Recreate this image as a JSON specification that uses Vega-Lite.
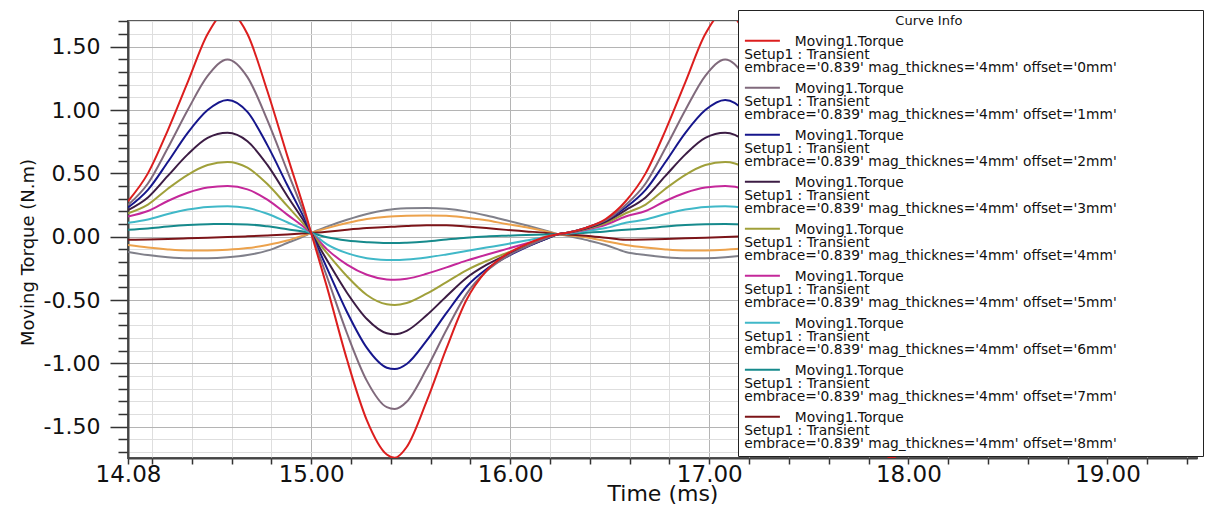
{
  "$schema": "https://vega.github.io/schema/vega-lite/v6.json",
  "width": 1069,
  "height": 437,
  "autosize": {"type": "none"},
  "padding": {"left": 128, "top": 21, "right": 12, "bottom": 49},
  "background": "white",
  "config": {
    "view": {"stroke": "#5a5a5a", "strokeWidth": 2},
    "font": "DejaVu Sans"
  },
  "data": {
    "values": [
      {"t": 14.08, "0mm": 0.28, "1mm": 0.25, "2mm": 0.23, "3mm": 0.21, "4mm": 0.185, "5mm": 0.16, "6mm": 0.11, "7mm": 0.055, "8mm": -0.024, "9mm": -0.065, "10mm": -0.12},
      {"t": 14.18, "0mm": 0.5, "1mm": 0.42, "2mm": 0.37, "3mm": 0.31, "4mm": 0.254, "5mm": 0.203, "6mm": 0.136, "7mm": 0.065, "8mm": -0.022, "9mm": -0.085, "10mm": -0.145},
      {"t": 14.28, "0mm": 0.84, "1mm": 0.7, "2mm": 0.59, "3mm": 0.48, "4mm": 0.379, "5mm": 0.282, "6mm": 0.179, "7mm": 0.08, "8mm": -0.018, "9mm": -0.1, "10mm": -0.162},
      {"t": 14.38, "0mm": 1.22, "1mm": 1.0, "2mm": 0.82, "3mm": 0.65, "4mm": 0.489, "5mm": 0.347, "6mm": 0.214, "7mm": 0.092, "8mm": -0.013, "9mm": -0.108, "10mm": -0.17},
      {"t": 14.48, "0mm": 1.6, "1mm": 1.27, "2mm": 1.0, "3mm": 0.78, "4mm": 0.566, "5mm": 0.388, "6mm": 0.235, "7mm": 0.099, "8mm": -0.008, "9mm": -0.108, "10mm": -0.17},
      {"t": 14.58, "0mm": 1.78, "1mm": 1.4, "2mm": 1.08, "3mm": 0.82, "4mm": 0.59, "5mm": 0.4, "6mm": 0.24, "7mm": 0.1, "8mm": -0.003, "9mm": -0.103, "10mm": -0.163},
      {"t": 14.68, "0mm": 1.6, "1mm": 1.26, "2mm": 0.985, "3mm": 0.753, "4mm": 0.545, "5mm": 0.374, "6mm": 0.227, "7mm": 0.097, "8mm": 0.003, "9mm": -0.09, "10mm": -0.145},
      {"t": 14.78, "0mm": 1.15, "1mm": 0.92, "2mm": 0.723, "3mm": 0.567, "4mm": 0.416, "5mm": 0.293, "6mm": 0.181, "7mm": 0.082, "8mm": 0.01, "9mm": -0.065, "10mm": -0.11},
      {"t": 14.88, "0mm": 0.64, "1mm": 0.52, "2mm": 0.408, "3mm": 0.322, "4mm": 0.243, "5mm": 0.174, "6mm": 0.114, "7mm": 0.059, "8mm": 0.018, "9mm": -0.03, "10mm": -0.05},
      {"t": 14.98, "0mm": 0.14, "1mm": 0.118, "2mm": 0.098, "3mm": 0.082, "4mm": 0.068, "5mm": 0.056, "6mm": 0.045, "7mm": 0.036, "8mm": 0.028, "9mm": 0.02, "10mm": 0.015},
      {"t": 15.0, "0mm": 0.03, "1mm": 0.03, "2mm": 0.03, "3mm": 0.03, "4mm": 0.03, "5mm": 0.03, "6mm": 0.03, "7mm": 0.03, "8mm": 0.03, "9mm": 0.03, "10mm": 0.03},
      {"t": 15.08, "0mm": -0.4, "1mm": -0.318, "2mm": -0.25, "3mm": -0.186, "4mm": -0.13, "5mm": -0.1, "6mm": -0.06, "7mm": -0.005, "8mm": 0.04, "9mm": 0.068, "10mm": 0.08},
      {"t": 15.18, "0mm": -0.97, "1mm": -0.762, "2mm": -0.594, "3mm": -0.442, "4mm": -0.312, "5mm": -0.22, "6mm": -0.13, "7mm": -0.03, "8mm": 0.055, "9mm": 0.108, "10mm": 0.134},
      {"t": 15.28, "0mm": -1.45, "1mm": -1.138, "2mm": -0.878, "3mm": -0.65, "4mm": -0.46, "5mm": -0.3, "6mm": -0.17, "7mm": -0.043, "8mm": 0.068, "9mm": 0.14, "10mm": 0.18},
      {"t": 15.38, "0mm": -1.72, "1mm": -1.346, "2mm": -1.034, "3mm": -0.762, "4mm": -0.534, "5mm": -0.337, "6mm": -0.183, "7mm": -0.05, "8mm": 0.077, "9mm": 0.158, "10mm": 0.21},
      {"t": 15.42, "0mm": -1.745, "1mm": -1.36, "2mm": -1.045, "3mm": -0.77, "4mm": -0.54, "5mm": -0.34, "6mm": -0.184, "7mm": -0.05, "8mm": 0.079, "9mm": 0.162, "10mm": 0.218},
      {"t": 15.48, "0mm": -1.66, "1mm": -1.303, "2mm": -1.005, "3mm": -0.743, "4mm": -0.524, "5mm": -0.332, "6mm": -0.18, "7mm": -0.047, "8mm": 0.084, "9mm": 0.166, "10mm": 0.224},
      {"t": 15.58, "0mm": -1.3, "1mm": -1.043, "2mm": -0.821, "3mm": -0.62, "4mm": -0.45, "5mm": -0.293, "6mm": -0.164, "7mm": -0.037, "8mm": 0.09, "9mm": 0.168, "10mm": 0.226},
      {"t": 15.68, "0mm": -0.88, "1mm": -0.735, "2mm": -0.602, "3mm": -0.47, "4mm": -0.358, "5mm": -0.242, "6mm": -0.14, "7mm": -0.022, "8mm": 0.09, "9mm": 0.166, "10mm": 0.22},
      {"t": 15.78, "0mm": -0.5, "1mm": -0.453, "2mm": -0.395, "3mm": -0.326, "4mm": -0.265, "5mm": -0.189, "6mm": -0.113, "7mm": -0.008, "8mm": 0.08, "9mm": 0.15, "10mm": 0.2},
      {"t": 15.88, "0mm": -0.27, "1mm": -0.273, "2mm": -0.257, "3mm": -0.223, "4mm": -0.192, "5mm": -0.142, "6mm": -0.086, "7mm": 0.002, "8mm": 0.068, "9mm": 0.13, "10mm": 0.168},
      {"t": 15.98, "0mm": -0.14, "1mm": -0.159, "2mm": -0.161, "3mm": -0.145, "4mm": -0.13, "5mm": -0.098, "6mm": -0.059, "7mm": 0.008, "8mm": 0.054, "9mm": 0.1, "10mm": 0.13},
      {"t": 16.08, "0mm": -0.06, "1mm": -0.079, "2mm": -0.084, "3mm": -0.079, "4mm": -0.072, "5mm": -0.054, "6mm": -0.03, "7mm": 0.013, "8mm": 0.042, "9mm": 0.074, "10mm": 0.09},
      {"t": 16.18, "0mm": 0.0, "1mm": -0.012, "2mm": -0.017, "3mm": -0.017, "4mm": -0.016, "5mm": -0.01, "6mm": 0.0, "7mm": 0.018, "8mm": 0.03, "9mm": 0.042, "10mm": 0.047},
      {"t": 16.24, "0mm": 0.02, "1mm": 0.02, "2mm": 0.02, "3mm": 0.02, "4mm": 0.02, "5mm": 0.02, "6mm": 0.02, "7mm": 0.02, "8mm": 0.02, "9mm": 0.02, "10mm": 0.02},
      {"t": 16.28, "0mm": 0.03, "1mm": 0.03, "2mm": 0.03, "3mm": 0.03, "4mm": 0.028, "5mm": 0.027, "6mm": 0.025, "7mm": 0.022, "8mm": 0.018, "9mm": 0.014, "10mm": 0.01},
      {"t": 16.38, "0mm": 0.07, "1mm": 0.07, "2mm": 0.07, "3mm": 0.065, "4mm": 0.06, "5mm": 0.055, "6mm": 0.045, "7mm": 0.032, "8mm": 0.008, "9mm": -0.005, "10mm": -0.025},
      {"t": 16.48, "0mm": 0.14, "1mm": 0.13, "2mm": 0.13, "3mm": 0.12, "4mm": 0.108, "5mm": 0.095, "6mm": 0.068, "7mm": 0.042, "8mm": -0.008, "9mm": -0.035, "10mm": -0.065},
      {"t": 16.58, "0mm": 0.28, "1mm": 0.25, "2mm": 0.23, "3mm": 0.21, "4mm": 0.185, "5mm": 0.16, "6mm": 0.11, "7mm": 0.055, "8mm": -0.024, "9mm": -0.065, "10mm": -0.12},
      {"t": 16.68, "0mm": 0.5, "1mm": 0.42, "2mm": 0.37, "3mm": 0.31, "4mm": 0.254, "5mm": 0.203, "6mm": 0.136, "7mm": 0.065, "8mm": -0.022, "9mm": -0.085, "10mm": -0.145},
      {"t": 16.78, "0mm": 0.84, "1mm": 0.7, "2mm": 0.59, "3mm": 0.48, "4mm": 0.379, "5mm": 0.282, "6mm": 0.179, "7mm": 0.08, "8mm": -0.018, "9mm": -0.1, "10mm": -0.162},
      {"t": 16.88, "0mm": 1.22, "1mm": 1.0, "2mm": 0.82, "3mm": 0.65, "4mm": 0.489, "5mm": 0.347, "6mm": 0.214, "7mm": 0.092, "8mm": -0.013, "9mm": -0.108, "10mm": -0.17},
      {"t": 16.98, "0mm": 1.6, "1mm": 1.27, "2mm": 1.0, "3mm": 0.78, "4mm": 0.566, "5mm": 0.388, "6mm": 0.235, "7mm": 0.099, "8mm": -0.008, "9mm": -0.108, "10mm": -0.17},
      {"t": 17.08, "0mm": 1.78, "1mm": 1.4, "2mm": 1.08, "3mm": 0.82, "4mm": 0.59, "5mm": 0.4, "6mm": 0.24, "7mm": 0.1, "8mm": -0.003, "9mm": -0.103, "10mm": -0.163},
      {"t": 17.18, "0mm": 1.6, "1mm": 1.26, "2mm": 0.985, "3mm": 0.753, "4mm": 0.545, "5mm": 0.374, "6mm": 0.227, "7mm": 0.097, "8mm": 0.003, "9mm": -0.09, "10mm": -0.145},
      {"t": 17.28, "0mm": 1.15, "1mm": 0.92, "2mm": 0.723, "3mm": 0.567, "4mm": 0.416, "5mm": 0.293, "6mm": 0.181, "7mm": 0.082, "8mm": 0.01, "9mm": -0.065, "10mm": -0.11},
      {"t": 17.38, "0mm": 0.64, "1mm": 0.52, "2mm": 0.408, "3mm": 0.322, "4mm": 0.243, "5mm": 0.174, "6mm": 0.114, "7mm": 0.059, "8mm": 0.018, "9mm": -0.03, "10mm": -0.05},
      {"t": 17.48, "0mm": 0.14, "1mm": 0.118, "2mm": 0.098, "3mm": 0.082, "4mm": 0.068, "5mm": 0.056, "6mm": 0.045, "7mm": 0.036, "8mm": 0.028, "9mm": 0.02, "10mm": 0.015},
      {"t": 17.5, "0mm": 0.03, "1mm": 0.03, "2mm": 0.03, "3mm": 0.03, "4mm": 0.03, "5mm": 0.03, "6mm": 0.03, "7mm": 0.03, "8mm": 0.03, "9mm": 0.03, "10mm": 0.03},
      {"t": 17.58, "0mm": -0.4, "1mm": -0.318, "2mm": -0.25, "3mm": -0.186, "4mm": -0.13, "5mm": -0.1, "6mm": -0.06, "7mm": -0.005, "8mm": 0.04, "9mm": 0.068, "10mm": 0.08},
      {"t": 17.68, "0mm": -0.97, "1mm": -0.762, "2mm": -0.594, "3mm": -0.442, "4mm": -0.312, "5mm": -0.22, "6mm": -0.13, "7mm": -0.03, "8mm": 0.055, "9mm": 0.108, "10mm": 0.134},
      {"t": 17.78, "0mm": -1.45, "1mm": -1.138, "2mm": -0.878, "3mm": -0.65, "4mm": -0.46, "5mm": -0.3, "6mm": -0.17, "7mm": -0.043, "8mm": 0.068, "9mm": 0.14, "10mm": 0.18},
      {"t": 17.88, "0mm": -1.72, "1mm": -1.346, "2mm": -1.034, "3mm": -0.762, "4mm": -0.534, "5mm": -0.337, "6mm": -0.183, "7mm": -0.05, "8mm": 0.077, "9mm": 0.158, "10mm": 0.21},
      {"t": 17.92, "0mm": -1.745, "1mm": -1.36, "2mm": -1.045, "3mm": -0.77, "4mm": -0.54, "5mm": -0.34, "6mm": -0.184, "7mm": -0.05, "8mm": 0.079, "9mm": 0.162, "10mm": 0.218},
      {"t": 17.98, "0mm": -1.66, "1mm": -1.303, "2mm": -1.005, "3mm": -0.743, "4mm": -0.524, "5mm": -0.332, "6mm": -0.18, "7mm": -0.047, "8mm": 0.084, "9mm": 0.166, "10mm": 0.224},
      {"t": 18.08, "0mm": -1.3, "1mm": -1.043, "2mm": -0.821, "3mm": -0.62, "4mm": -0.45, "5mm": -0.293, "6mm": -0.164, "7mm": -0.037, "8mm": 0.09, "9mm": 0.168, "10mm": 0.226},
      {"t": 18.18, "0mm": -0.88, "1mm": -0.735, "2mm": -0.602, "3mm": -0.47, "4mm": -0.358, "5mm": -0.242, "6mm": -0.14, "7mm": -0.022, "8mm": 0.09, "9mm": 0.166, "10mm": 0.22},
      {"t": 18.28, "0mm": -0.5, "1mm": -0.453, "2mm": -0.395, "3mm": -0.326, "4mm": -0.265, "5mm": -0.189, "6mm": -0.113, "7mm": -0.008, "8mm": 0.08, "9mm": 0.15, "10mm": 0.2},
      {"t": 18.38, "0mm": -0.27, "1mm": -0.273, "2mm": -0.257, "3mm": -0.223, "4mm": -0.192, "5mm": -0.142, "6mm": -0.086, "7mm": 0.002, "8mm": 0.068, "9mm": 0.13, "10mm": 0.168},
      {"t": 18.48, "0mm": -0.14, "1mm": -0.159, "2mm": -0.161, "3mm": -0.145, "4mm": -0.13, "5mm": -0.098, "6mm": -0.059, "7mm": 0.008, "8mm": 0.054, "9mm": 0.1, "10mm": 0.13},
      {"t": 18.58, "0mm": -0.06, "1mm": -0.079, "2mm": -0.084, "3mm": -0.079, "4mm": -0.072, "5mm": -0.054, "6mm": -0.03, "7mm": 0.013, "8mm": 0.042, "9mm": 0.074, "10mm": 0.09},
      {"t": 18.68, "0mm": 0.0, "1mm": -0.012, "2mm": -0.017, "3mm": -0.017, "4mm": -0.016, "5mm": -0.01, "6mm": 0.0, "7mm": 0.018, "8mm": 0.03, "9mm": 0.042, "10mm": 0.047},
      {"t": 18.74, "0mm": 0.02, "1mm": 0.02, "2mm": 0.02, "3mm": 0.02, "4mm": 0.02, "5mm": 0.02, "6mm": 0.02, "7mm": 0.02, "8mm": 0.02, "9mm": 0.02, "10mm": 0.02},
      {"t": 18.78, "0mm": 0.03, "1mm": 0.03, "2mm": 0.03, "3mm": 0.03, "4mm": 0.028, "5mm": 0.027, "6mm": 0.025, "7mm": 0.022, "8mm": 0.018, "9mm": 0.014, "10mm": 0.01},
      {"t": 18.88, "0mm": 0.07, "1mm": 0.07, "2mm": 0.07, "3mm": 0.065, "4mm": 0.06, "5mm": 0.055, "6mm": 0.045, "7mm": 0.032, "8mm": 0.008, "9mm": -0.005, "10mm": -0.025},
      {"t": 18.98, "0mm": 0.14, "1mm": 0.13, "2mm": 0.13, "3mm": 0.12, "4mm": 0.108, "5mm": 0.095, "6mm": 0.068, "7mm": 0.042, "8mm": -0.008, "9mm": -0.035, "10mm": -0.065},
      {"t": 19.08, "0mm": 0.28, "1mm": 0.25, "2mm": 0.23, "3mm": 0.21, "4mm": 0.185, "5mm": 0.16, "6mm": 0.11, "7mm": 0.055, "8mm": -0.024, "9mm": -0.065, "10mm": -0.12},
      {"t": 19.18, "0mm": 0.5, "1mm": 0.42, "2mm": 0.37, "3mm": 0.31, "4mm": 0.254, "5mm": 0.203, "6mm": 0.136, "7mm": 0.065, "8mm": -0.022, "9mm": -0.085, "10mm": -0.145},
      {"t": 19.28, "0mm": 0.84, "1mm": 0.7, "2mm": 0.59, "3mm": 0.48, "4mm": 0.379, "5mm": 0.282, "6mm": 0.179, "7mm": 0.08, "8mm": -0.018, "9mm": -0.1, "10mm": -0.162},
      {"t": 19.38, "0mm": 1.22, "1mm": 1.0, "2mm": 0.82, "3mm": 0.65, "4mm": 0.489, "5mm": 0.347, "6mm": 0.214, "7mm": 0.092, "8mm": -0.013, "9mm": -0.108, "10mm": -0.17},
      {"t": 19.48, "0mm": 1.6, "1mm": 1.27, "2mm": 1.0, "3mm": 0.78, "4mm": 0.566, "5mm": 0.388, "6mm": 0.235, "7mm": 0.099, "8mm": -0.008, "9mm": -0.108, "10mm": -0.17}
    ]
  },
  "transform": [
    {"fold": ["10mm", "9mm", "8mm", "7mm", "6mm", "5mm", "4mm", "3mm", "2mm", "1mm", "0mm"], "as": ["series", "torque"]}
  ],
  "mark": {"type": "line", "interpolate": "monotone", "strokeWidth": 2, "clip": true},
  "encoding": {
    "x": {
      "field": "t",
      "type": "quantitative",
      "scale": {"domain": [14.08, 19.45], "nice": false, "zero": false},
      "axis": {
        "title": "Time (ms)",
        "titleFont": "DejaVu Sans",
        "titleFontSize": 22,
        "titleFontWeight": "normal",
        "titleColor": "#111",
        "titleBaseline": "alphabetic",
        "titleX": 534.5,
        "titleY": 42,
        "values": [14.08, 14.2, 14.4, 14.6, 14.8, 15, 15.2, 15.4, 15.6, 15.8, 16, 16.2, 16.4, 16.6, 16.8, 17, 17.2, 17.4, 17.6, 17.8, 18, 18.2, 18.4, 18.6, 18.8, 19, 19.2, 19.4],
        "labelExpr": "(abs(datum.value - round(datum.value)) < 0.001 || datum.value < 14.1) ? format(datum.value, '.2f') : ''",
        "labelFont": "DejaVu Sans",
        "labelFontSize": 23,
        "labelColor": "#111",
        "labelOverlap": false,
        "labelFlush": false,
        "labelPadding": -1,
        "tickSize": 6,
        "tickColor": "#333",
        "tickWidth": 1.5,
        "domainColor": "#444",
        "domainWidth": 2,
        "grid": true,
        "gridColor": {"condition": {"test": "abs(datum.value - round(datum.value)) < 0.001", "value": "#b4b4b4"}, "value": "#dedede"},
        "gridWidth": 1
      }
    },
    "y": {
      "field": "torque",
      "type": "quantitative",
      "scale": {"domain": [-1.747, 1.703], "nice": false, "zero": false},
      "axis": {
        "title": "Moving Torque (N.m)",
        "titleFont": "DejaVu Sans",
        "titleFontSize": 18,
        "titleFontWeight": "normal",
        "titleColor": "#111",
        "titleBaseline": "bottom",
        "titleX": -91,
        "titleY": 231,
        "values": [-1.7, -1.6, -1.5, -1.4, -1.3, -1.2, -1.1, -1.0, -0.9, -0.8, -0.7, -0.6, -0.5, -0.4, -0.3, -0.2, -0.1, 0, 0.1, 0.2, 0.3, 0.4, 0.5, 0.6, 0.7, 0.8, 0.9, 1.0, 1.1, 1.2, 1.3, 1.4, 1.5, 1.6, 1.7],
        "labelExpr": "abs(datum.value * 2 - round(datum.value * 2)) < 0.01 ? replace(format(datum.value, '.2f'), '\u2212', '-') : ''",
        "labelFont": "DejaVu Sans",
        "labelFontSize": 22,
        "labelColor": "#111",
        "labelOverlap": false,
        "labelFlush": false,
        "labelPadding": 10,
        "tickSize": {"condition": {"test": "abs(datum.value * 2 - round(datum.value * 2)) < 0.01", "value": 18}, "value": 10},
        "tickColor": "#333",
        "tickWidth": 1.5,
        "domainColor": "#444",
        "domainWidth": 2,
        "grid": true,
        "gridColor": {"condition": {"test": "abs(datum.value * 2 - round(datum.value * 2)) < 0.01", "value": "#b4b4b4"}, "value": "#dedede"},
        "gridWidth": 1
      }
    },
    "color": {
      "field": "series",
      "type": "nominal",
      "scale": {
        "domain": ["0mm", "1mm", "2mm", "3mm", "4mm", "5mm", "6mm", "7mm", "8mm", "9mm", "10mm"],
        "range": ["#dc1e1e", "#806a7c", "#16168c", "#3c1c44", "#a0a03a", "#c4289a", "#40b8c8", "#168a8c", "#7c1418", "#eca24c", "#80808a"]
      },
      "legend": {
        "title": "\u2800\u2800\u2800\u2800\u2800\u2800\u2800\u2800\u2800\u2800\u2800\u2800\u2800\u2800\u2800\u2800Curve Info",
        "titleAnchor": "start",
        "titleLimit": 600,
        "orient": "none",
        "legendX": 610,
        "legendY": -11,
        "direction": "vertical",
        "values": ["0mm", "1mm", "2mm", "3mm", "4mm", "5mm", "6mm", "7mm", "8mm"],
        "fillColor": "white",
        "strokeColor": "#222",
        "padding": 5,
        "titleFont": "DejaVu Sans",
        "titleFontSize": 13,
        "titleFontWeight": "normal",
        "titleColor": "#111",
        "titlePadding": 0,
        "symbolType": "M-3.5,1.16H3.5",
        "symbolSize": 100,
        "symbolStrokeWidth": 2,
        "symbolOffset": 12.5,
        "labelOffset": -25,
        "labelFont": "DejaVu Sans",
        "labelFontSize": 13.8,
        "labelColor": "#111",
        "labelLimit": 900,
        "labelBaseline": "top",
        "rowPadding": 0,
        "labelExpr": "['\u2800\u2800\u2800\u2800\u2800Moving1.Torque', 'Setup1 : Transient', \"embrace='0.839' mag_thicknes='4mm' offset='\" + datum.label + \"'\u2800\u2800\u2800\u2800\u2800\u2800\u2800\u2800\"]",
        "encode": {"labels": {"update": {"lineHeight": {"value": 12.9}}}}
      }
    }
  }
}
